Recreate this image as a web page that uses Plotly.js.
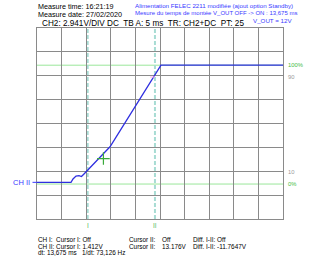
<!DOCTYPE html>
<html><head><meta charset="utf-8">
<script src="https://cdn.plot.ly/plotly-3.0.1.min.js"></script>
<style>html,body{margin:0;padding:0;background:#fff}#c{width:320px;height:258px}</style>
</head><body><div id="c"></div>
<script>
// Time axis (ms) and CH II voltage (V)
const timeMs = [0, 6.91, 7.32, 7.93, 8.54, 9.04, 9.55, 10.16, 10.77, 11.79, 12.80, 13.82, 14.84, 16.87, 18.90, 20.93, 22.97, 24.59, 25.20, 50];
const voltsCH2 = [0, 0, 0.41, 0.77, 0.83, 0.71, 1.02, 1.39, 1.82, 2.37, 3.05, 3.73, 4.38, 6.35, 8.32, 10.29, 12.26, 13.83, 14.43, 14.43];
const cursorTimes = [10.3, 23.975];
const cursorLabels = ["I", "II"];
const crossPoint = {x: [13.5], y: [2.93]};
const levelValues = [14.43, 12.97, 1.25, -0.21];
const levelLabels = ["100%", "90", "10", "0%"];
const levelIsLine = [true, false, false, true];
const voltsPerDiv = 2.941, msPerDiv = 5, yBottom = -4.517;

const px2x = p => (p - 37) / 246;
const px2y = p => (219 - p) / 191;
const ann = [];
const FF = 'Liberation Sans, Arial';
const A = (txt, px, py, size, color, anchor) => ann.push({text: txt, xref: 'paper', yref: 'paper', x: px2x(px), y: px2y(py), xanchor: anchor || 'left', yanchor: 'middle', showarrow: false, borderpad: 0, font: {family: FF, size: size, color: color || '#000'}});

A('Measure time: 16:21:19', 37, 7, 7.2);
A('Measure date: 27/02/2020', 37, 14.5, 7.2);
A('CH2: 2.941V/DIV DC  TB A: 5 ms  TR: CH2+DC  PT: 25', 41, 23.5, 8.2);
const blue = '#3a3aff';
A('Alimentation FELEC 2211 modifiée (ajout option Standby)', 134, 6, 6.2, blue);
A('Mesure du temps de montée V_OUT OFF -> ON : 13,675 ms', 134, 13.5, 6.0, blue);
A('V_OUT = 12V', 293, 20.7, 6.2, blue, 'right');
const bs = 6.4;
const r1 = 239.5, r2 = 246, r3 = 252.5;
A('CH I:  Cursor I: Off', 37, r1, bs);
A('Cursor II:', 128, r1, bs); A('Off', 160.5, r1, bs);
A('Diff. I-II: Off', 191.5, r1, bs);
A('CH II: Cursor I: 1.412V', 37, r2, bs);
A('Cursor II:', 128, r2, bs); A('13.176V', 160.5, r2, bs);
A('Diff. I-II: -11.7647V', 191.5, r2, bs);
A('dt: 13,675 ms', 37, r3, bs); A('1/dt: 73,126 Hz', 81, r3, bs);

// CH II marker label
ann.push({text: 'CH II', xref: 'paper', yref: 'y', x: px2x(32), y: 0, xanchor: 'right', yanchor: 'middle', showarrow: false, font: {family: FF, size: 7.5, color: blue}});
// right level labels
levelValues.forEach((v, i) => ann.push({text: levelLabels[i], xref: 'paper', yref: 'y', x: px2x(285.5), y: v, xanchor: 'left', yanchor: 'middle', showarrow: false, font: {family: FF, size: 5.8, color: levelIsLine[i] ? '#44bb44' : '#9a9a9a'}}));
// cursor labels
cursorTimes.forEach((t, i) => ann.push({text: cursorLabels[i], xref: 'x', yref: 'paper', x: t, y: px2y(225.5), xanchor: 'center', yanchor: 'middle', showarrow: false, font: {family: FF, size: 6.5, color: '#55bb66'}}));

const shapes = [];
levelValues.forEach((v, i) => { if (levelIsLine[i]) shapes.push({type: 'line', xref: 'paper', yref: 'y', x0: 0, x1: 1, y0: v, y1: v, line: {color: '#9ae69a', width: 1}, layer: 'below'}); });
cursorTimes.forEach(t => shapes.push({type: 'line', xref: 'x', yref: 'paper', x0: t, x1: t, y0: 0, y1: 1, line: {color: '#a8dcd4', width: 2, dash: '4px,2px'}, layer: 'below'}));
shapes.push({type: 'line', xref: 'x', yref: 'y', x0: 22.97, x1: 24.0, y0: levelValues[1], y1: levelValues[1], line: {color: '#ffb0ee', width: 1}});
shapes.push({type: 'line', xref: 'paper', yref: 'y', x0: px2x(32.5), x1: 0, y0: 0, y1: 0, line: {color: blue, width: 1}});

const traces = [
  {x: timeMs, y: voltsCH2, mode: 'lines', line: {color: '#2f2fe0', width: 1.3}, hoverinfo: 'skip'},
  {x: crossPoint.x, y: crossPoint.y, mode: 'markers', marker: {symbol: 'cross-thin', size: 9, line: {color: '#3aaa3a', width: 1.2}}, hoverinfo: 'skip'}
];
const gridc = '#8a8a8a';
const layout = {
  width: 320, height: 258, margin: {l: 37, r: 37, t: 28, b: 39, pad: 0},
  paper_bgcolor: '#fff', plot_bgcolor: '#fff', showlegend: false,
  xaxis: {range: [0, 10 * msPerDiv], tick0: 0, dtick: msPerDiv, showticklabels: false, ticks: '', showgrid: true, gridcolor: gridc, gridwidth: 1, zeroline: false, showline: true, mirror: true, linecolor: gridc, linewidth: 1, fixedrange: true},
  yaxis: {range: [yBottom, yBottom + 8 * voltsPerDiv], tick0: yBottom, dtick: voltsPerDiv, showticklabels: false, ticks: '', showgrid: true, gridcolor: gridc, gridwidth: 1, zeroline: false, showline: true, mirror: true, linecolor: gridc, linewidth: 1, fixedrange: true},
  annotations: ann, shapes: shapes
};
Plotly.newPlot('c', traces, layout, {staticPlot: true, displayModeBar: false});
</script></body></html>
